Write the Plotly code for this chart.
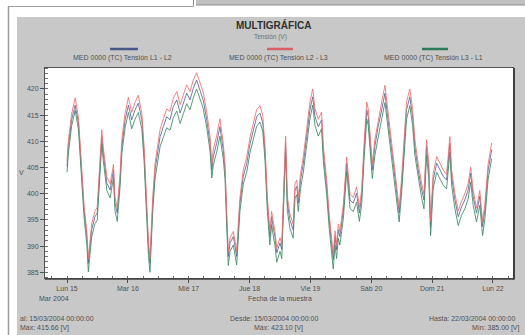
import pandas as pd
import plotly.graph_objects as go

# ---------------- data ----------------
start_date = "2004-03-15"
hours = [
    0.0, 0.5, 1.8, 3.2, 4.5, 5.8, 6.7, 7.8, 8.4, 9.7,
    11.0, 11.9, 13.0, 13.7, 14.3, 15.7, 17.0, 18.3, 18.9, 19.8,
    20.9, 21.6, 22.9, 24.2, 25.5, 26.8, 28.1, 29.5, 30.4, 31.2,
    32.1, 32.7, 33.8, 34.7, 35.6, 36.7, 38.0, 39.3, 40.6, 41.9,
    43.3, 44.6, 45.9, 47.2, 48.5, 49.8, 51.1, 52.4, 53.7, 55.1,
    56.4, 57.1, 57.7, 59.0, 60.3, 61.6, 62.3, 63.0, 63.6, 64.3,
    65.6, 66.9, 68.2, 69.5, 70.9, 72.2, 73.5, 74.8, 76.1, 77.2,
    78.1, 79.0, 80.0, 80.7, 81.3, 82.0, 82.7, 84.0, 84.7, 85.4,
    86.2, 86.9, 87.9, 89.2, 89.9, 90.6, 91.2, 92.1, 93.2, 94.5,
    95.8, 96.9, 97.8, 99.1, 100.4, 101.1, 102.4, 103.4, 104.4, 105.0,
    105.7, 106.3, 107.0, 107.6, 109.0, 110.3, 110.9, 111.6, 112.9, 114.2,
    115.3, 116.2, 117.1, 118.2, 118.8, 119.5, 120.4, 121.4, 122.7, 124.1,
    125.4, 126.3, 127.4, 128.4, 129.3, 130.2, 131.0, 132.0, 132.9, 133.9,
    135.2, 136.3, 137.2, 138.5, 139.9, 140.8, 141.8, 142.7, 143.4, 144.4,
    145.8, 147.1, 148.4, 149.7, 151.0, 151.7, 153.0, 154.3, 155.6, 156.9,
    158.2, 159.2, 160.2, 161.5, 162.8, 163.9, 164.8, 166.1, 167.5,
]
v_l1_l2 = [
    405.2, 409.0, 414.1, 416.9, 413.5, 404.5, 396.9, 391.8, 386.7, 393.1,
    395.6, 396.3, 404.5, 410.9, 407.7, 402.0, 400.7, 404.5, 398.2, 396.3,
    402.6, 409.0, 414.1, 416.9, 414.1, 416.0, 417.3, 414.1, 407.7, 398.2,
    389.9, 386.7, 398.2, 404.5, 407.7, 410.9, 412.8, 414.7, 414.1, 416.6,
    417.9, 415.4, 417.3, 419.2, 417.9, 420.1, 421.7, 419.8, 417.9, 414.1,
    409.6, 404.5, 407.1, 409.6, 412.8, 408.4, 404.5, 395.0, 388.0, 390.6,
    391.8, 388.0, 398.2, 403.3, 405.8, 409.6, 412.2, 414.7, 415.4, 413.5,
    407.7, 398.2, 391.8, 395.6, 393.7, 391.8, 388.7, 390.6, 389.3, 400.7,
    409.7, 398.2, 395.0, 393.1, 400.7, 401.4, 398.2, 402.6, 405.8, 410.9,
    416.0, 418.5, 414.7, 412.8, 414.1, 407.7, 401.4, 395.0, 389.3, 387.4,
    391.8, 389.3, 393.1, 391.8, 396.9, 405.8, 402.6, 398.8, 398.2, 400.1,
    396.3, 399.5, 407.7, 416.0, 414.7, 409.6, 404.5, 409.0, 412.8, 416.0,
    419.2, 415.4, 410.9, 406.5, 403.3, 398.8, 396.3, 402.0, 409.6, 416.0,
    418.5, 414.7, 409.0, 404.5, 400.7, 398.8, 409.0, 404.5, 393.7, 402.6,
    405.8, 404.5, 403.3, 402.6, 409.6, 403.3, 398.8, 395.6, 397.5, 398.8,
    400.7, 403.9, 399.5, 396.3, 399.5, 393.7, 396.9, 404.5, 408.4,
]
v_l2_l3 = [
    406.3, 410.1, 415.2, 418.3, 414.6, 405.5, 397.8, 392.7, 387.6, 394.2,
    396.7, 397.4, 405.6, 412.2, 408.9, 403.2, 401.9, 405.6, 399.3, 397.3,
    403.7, 410.3, 415.4, 418.4, 415.5, 417.4, 418.8, 415.3, 408.9, 399.2,
    390.8, 387.6, 399.3, 405.7, 409.0, 412.3, 414.3, 416.2, 415.7, 418.2,
    419.5, 417.0, 418.9, 420.8, 419.5, 421.7, 423.1, 421.3, 419.4, 415.6,
    411.0, 405.7, 408.5, 411.0, 414.3, 409.7, 405.6, 396.1, 388.9, 391.6,
    392.8, 389.0, 399.3, 404.5, 407.1, 410.9, 413.6, 416.1, 416.8, 414.9,
    408.9, 399.3, 392.8, 396.6, 394.8, 392.8, 389.6, 391.6, 390.3, 401.9,
    411.0, 399.4, 396.1, 394.2, 401.9, 402.6, 399.3, 403.8, 407.1, 412.3,
    417.5, 420.0, 416.2, 414.2, 415.6, 409.0, 402.6, 396.1, 390.3, 388.4,
    392.9, 390.3, 394.2, 392.8, 398.0, 407.0, 403.8, 399.9, 399.3, 401.3,
    397.4, 400.7, 409.0, 417.5, 416.2, 410.9, 405.7, 410.3, 414.2, 417.5,
    420.7, 416.9, 412.3, 407.8, 404.5, 399.9, 397.3, 403.2, 410.9, 417.5,
    420.0, 416.1, 410.3, 405.7, 401.9, 399.9, 410.3, 405.7, 394.7, 403.8,
    407.1, 405.8, 404.5, 403.7, 410.9, 404.5, 400.0, 396.7, 398.6, 400.0,
    401.9, 405.1, 400.6, 397.3, 400.6, 394.7, 398.0, 405.7, 409.7,
]
v_l3_l1 = [
    404.1, 407.6, 412.9, 415.9, 412.2, 403.2, 395.5, 390.3, 385.1, 391.7,
    394.3, 394.9, 403.2, 409.5, 406.3, 400.6, 399.2, 403.1, 396.7, 394.7,
    401.2, 407.6, 412.6, 415.5, 412.4, 414.2, 415.5, 412.3, 406.1, 396.7,
    388.2, 385.0, 396.6, 402.8, 405.9, 409.0, 410.8, 412.6, 412.1, 414.5,
    415.8, 413.4, 415.3, 417.2, 416.0, 418.3, 420.0, 418.2, 416.3, 412.6,
    408.1, 403.0, 405.5, 407.9, 411.0, 406.7, 402.9, 393.4, 386.3, 389.0,
    390.2, 386.4, 396.7, 401.8, 404.2, 407.9, 410.4, 412.9, 413.7, 411.9,
    406.2, 396.7, 390.2, 394.1, 392.1, 390.2, 386.9, 389.0, 387.6, 399.1,
    408.1, 396.7, 393.4, 391.5, 399.1, 399.8, 396.6, 401.0, 404.1, 409.2,
    414.3, 416.9, 413.0, 411.0, 412.4, 406.1, 399.8, 393.4, 387.6, 385.6,
    390.2, 387.6, 391.5, 390.2, 395.3, 404.2, 401.0, 397.2, 396.6, 398.4,
    394.7, 397.9, 406.1, 414.3, 413.0, 407.9, 402.9, 407.3, 411.0, 414.3,
    417.4, 413.7, 409.3, 404.9, 401.7, 397.2, 394.6, 400.3, 407.8, 414.2,
    416.8, 413.0, 407.3, 402.9, 399.1, 397.1, 407.3, 402.8, 392.0, 400.9,
    404.1, 402.8, 401.6, 400.9, 407.9, 401.6, 397.1, 393.9, 395.9, 397.1,
    399.0, 402.2, 397.8, 394.6, 397.8, 392.0, 395.2, 402.8, 406.7,
]
series_names = [
    "MED 0000 (TC) Tensión L1 - L2",
    "MED 0000 (TC) Tensión L2 - L3",
    "MED 0000 (TC) Tensión L3 - L1",
]
day_labels = ["Lun 15", "Mar 16", "Mié 17", "Jue 18", "Vie 19", "Sáb 20", "Dom 21", "Lun 22"]
y_ticks = [385, 390, 395, 400, 405, 410, 415, 420]

# ---------------- layout helpers ----------------
W, H = 525, 335
L, R, T, B = 45, 513, 68, 278


def px(x):
    return (x - L) / (R - L)


def py(y):
    return (B - y) / (B - T)


colors = ["rgba(90,100,150,0.85)", "rgba(236,112,112,0.85)", "rgba(60,138,100,0.85)"]
legend_colors = ["#4a5888", "#d8606c", "#2f7a5a"]

t0 = pd.Timestamp(start_date)
times = [t0 + pd.Timedelta(hours=h) for h in hours]
day_vals = [t0 + pd.Timedelta(days=i) for i in range(len(day_labels))]

fig = go.Figure()
order = [(0, v_l1_l2), (2, v_l3_l1), (1, v_l2_l3)]
for idx, vals in order:
    fig.add_trace(go.Scatter(
        x=times, y=vals, mode="lines", name=series_names[idx],
        line=dict(color=colors[idx], width=1),
        hoverinfo="skip",
    ))

x_lo = t0 + pd.Timedelta(hours=-8.7)
x_hi = t0 + pd.Timedelta(hours=175.9)

font_family = "Liberation Sans, Arial, sans-serif"

fig.update_layout(
    width=W, height=H,
    margin=dict(l=L, r=W - R, t=T, b=H - B, pad=0),
    paper_bgcolor="#c8c8c8",
    plot_bgcolor="white",
    showlegend=False,
    hovermode=False,
    font=dict(family=font_family, size=7, color="#505050"),
    xaxis=dict(
        type="date", range=[x_lo, x_hi],
        tickvals=day_vals, ticktext=day_labels,
        ticks="outside", ticklen=4, tickcolor="#505050",
        showgrid=False, zeroline=False,
        showline=True, linecolor="#505050", linewidth=1, mirror=True,
        tickfont=dict(size=7, color="#505050"),
        minor=dict(ticks="inside", ticklen=2, dtick=6 * 3600 * 1000, tickcolor="#707070"),
    ),
    yaxis=dict(
        range=[383.9, 424.0],
        tickvals=y_ticks,
        ticks="outside", ticklen=4, tickcolor="#505050",
        showgrid=False, zeroline=False,
        showline=True, linecolor="#505050", linewidth=1, mirror=True,
        tickfont=dict(size=7, color="#505050"),
        minor=dict(ticks="inside", ticklen=3, dtick=1, tickcolor="#707070"),
    ),
)

shapes = []


def rect(x0, y0, x1, y1, fill, layer="below"):
    shapes.append(dict(type="rect", xref="paper", yref="paper",
                       x0=px(x0), x1=px(x1), y0=py(y1), y1=py(y0),
                       fillcolor=fill, line=dict(width=0), layer=layer))


def line(x0, y0, x1, y1, color, width=1, layer="below"):
    shapes.append(dict(type="line", xref="paper", yref="paper",
                       x0=px(x0), x1=px(x1), y0=py(y0), y1=py(y1),
                       line=dict(color=color, width=width), layer=layer))


# window frame outside the chart panel
rect(0, 0, 525, 17, "white")
rect(0, 0, 17, 335, "white")
rect(196, 0, 525, 5, "#c0c0c0")
line(196, 5, 525, 5, "#8c8c8c")
line(193.5, 0, 193.5, 6, "#8c8c8c")
line(8, 6.5, 193.5, 6.5, "#9c9c9c")
line(8.5, 6.5, 8.5, 335, "#9c9c9c", 1.5)
# plot frame shadow
line(514, 68, 514, 279.5, "#404040", 2, "above")
line(45, 279, 514, 279, "#404040", 1.5, "above")
# legend swatches
for i, (xa, xb) in enumerate([(110, 138), (267, 293), (422, 448)]):
    line(xa, 49, xb, 49, legend_colors[i], 2.5, "above")

fig.update_layout(shapes=shapes)

ann = []


def text(x, y, s, size=7, color="#505050", xanchor="center", bold=False):
    ann.append(dict(xref="paper", yref="paper", x=px(x), y=py(y),
                    text=("<b>%s</b>" % s) if bold else s, showarrow=False,
                    xanchor=xanchor, yanchor="middle",
                    font=dict(size=size, color=color, family=font_family)))


text(273, 25, "MULTIGRÁFICA", size=10, color="#303030", bold=True)
text(270, 37, "Tensión (V)", size=6.5, color="#707070")
for i, cx in enumerate([122, 278, 433]):
    text(cx, 58, series_names[i], size=7, color="#505050")
text(21, 172, "V", size=7)
text(37, 298, "Mar 2004", size=7, xanchor="left")
text(280, 298, "Fecha de la muestra", size=7)
text(18, 318, "al: 15/03/2004 00:00:00", size=7, xanchor="left")
text(18, 328, "Máx: 415.66 [V]", size=7, xanchor="left")
text(274, 318, "Desde: 15/03/2004 00:00:00", size=7)
text(278, 328, "Máx: 423.10 [V]", size=7)
text(427, 318, "Hasta: 22/03/2004 00:00:00", size=7, xanchor="left")
text(470, 328, "Mín: 385.00 [V]", size=7, xanchor="left")

fig.update_layout(annotations=ann)

fig.write_html(
    "out.html",
    config={"displayModeBar": False, "staticPlot": True},
    post_script="document.body.style.margin='0px';document.body.style.overflow='hidden';",
)
